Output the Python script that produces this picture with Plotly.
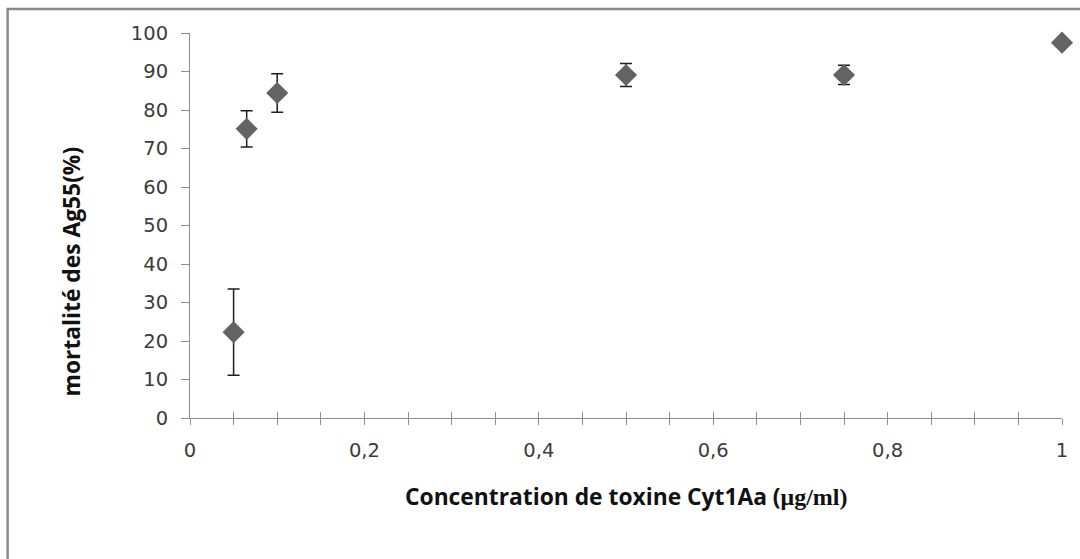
import plotly.graph_objects as go

# Data
concentration = [0.05, 0.065, 0.1, 0.5, 0.75, 1.0]
mortalite = [22.3, 75.1, 84.4, 89.1, 89.1, 97.5]
erreur = [11.2, 4.7, 5.0, 3.0, 2.5, 0.0]
x_tickvals = [0, 0.2, 0.4, 0.6, 0.8, 1]
x_ticktext = ["0", "0,2", "0,4", "0,6", "0,8", "1"]
y_tickvals = [0, 10, 20, 30, 40, 50, 60, 70, 80, 90, 100]

W, H = 1080, 559
ML, MR, MT, MB = 190, 15, 33, 141
PW = W - ML - MR
PH = H - MT - MB

def px_x(p):
    return (p - ML) / PW

def px_y(p):
    return (H - MB - p) / PH

AXIS_COL = "#8e8e8e"
TICK_FONT = dict(family="DejaVu Sans, sans-serif", size=19.5, color="#3c3c3c")
TITLE_FONT = dict(family="Open Sans, sans-serif", size=22.8, color="#111111")

fig = go.Figure()
fig.add_trace(go.Scatter(
    x=concentration, y=mortalite, mode="markers",
    marker=dict(symbol="diamond", size=17, color="#636363"),
    error_y=dict(type="data", array=erreur, visible=True, color="#1e1e1e",
                 thickness=1.5, width=6),
    cliponaxis=False, showlegend=False,
))
# invisible trace on second axis for inside (crossing) ticks
fig.add_trace(go.Scatter(x=[0, 1], y=[0, 0], xaxis="x2", mode="markers",
                         marker=dict(opacity=0), showlegend=False, hoverinfo="skip"))

fig.update_layout(
    width=W, height=H,
    margin=dict(l=ML, r=MR, t=MT, b=MB),
    paper_bgcolor="white", plot_bgcolor="white",
    separators=", ",
    xaxis=dict(range=[0, 1], tickvals=x_tickvals, ticktext=x_ticktext,
               ticks="outside", ticklen=6, tickcolor=AXIS_COL, tickwidth=1,
               minor=dict(dtick=0.05, ticks="outside", ticklen=6, tickcolor=AXIS_COL),
               showline=True, linecolor=AXIS_COL, linewidth=1,
               showgrid=False, zeroline=False, tickfont=TICK_FONT,
               ticklabelstandoff=9),
    xaxis2=dict(range=[0, 1], overlaying="x", side="bottom", anchor="y",
                dtick=0.05, tick0=0, ticks="inside", ticklen=6, tickcolor=AXIS_COL,
                showticklabels=False, showline=False, showgrid=False, zeroline=False),
    yaxis=dict(range=[0, 100], tickvals=y_tickvals, ticks="outside", ticklen=8,
               tickcolor=AXIS_COL, showline=True, linecolor=AXIS_COL, linewidth=1,
               showgrid=False, zeroline=False, tickfont=TICK_FONT,
               ticklabelstandoff=9),
)

fig.add_annotation(
    xref="paper", yref="paper", x=0.5, y=px_y(496), xanchor="center", yanchor="middle",
    text="<b>Concentration de toxine Cyt1Aa (<span style='font-family:Liberation Serif;font-size:24px'>μg/ml)</span></b>",
    showarrow=False, font=TITLE_FONT,
)
fig.add_annotation(
    xref="paper", yref="paper", x=px_x(71), y=px_y(271), xanchor="center", yanchor="middle",
    text="<b>mortalité des Ag55(%)</b>", textangle=-90,
    showarrow=False, font=TITLE_FONT,
)

fig.add_shape(type="rect", xref="paper", yref="paper",
              x0=px_x(7), y0=px_y(H + 20), x1=px_x(W + 20), y1=px_y(9),
              line=dict(color="#8a8a8a", width=2.5), fillcolor="rgba(0,0,0,0)",
              layer="below")

fig.write_html("out.html")
